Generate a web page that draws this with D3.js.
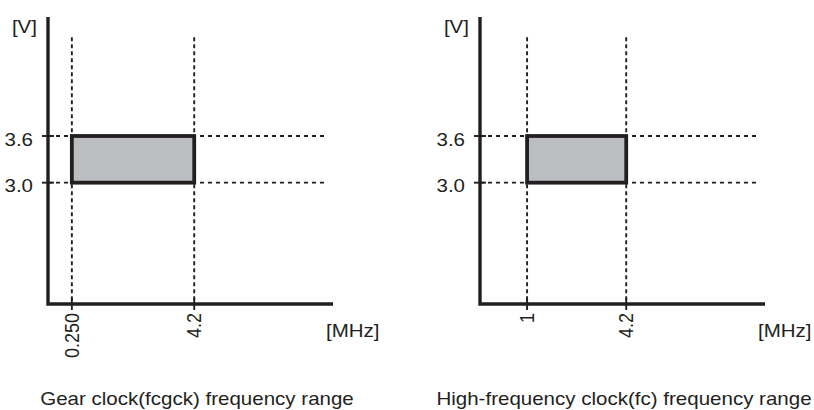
<!DOCTYPE html>
<html lang="en">
<head>
  <meta charset="utf-8">
  <title>Clock frequency range</title>
  <script src="https://d3js.org/d3.v7.min.js"></script>
  <style>
    body {
      margin: 0;
      background: #ffffff;
      font-family: "Liberation Sans", Arial, Helvetica, sans-serif;
    }
    .lbl {
      font-size: 18px;
      fill: #231f20;
    }
    .grid {
      stroke: #231f20;
      stroke-width: 1.9px;
      fill: none;
    }
    .axis-line {
      stroke: #231f20;
      stroke-width: 3.4px;
      fill: none;
    }
  </style>
</head>
<body>
<script>
// chart data
var titles = ["Gear clock(fcgck) frequency range", "High-frequency clock(fc) frequency range"];
var freqLow = [0.25, 1];
var freqHigh = [4.2, 4.2];
var freqLabels = [["0.250", "4.2"], ["1", "4.2"]];
var voltLow = 3.0;
var voltHigh = 3.6;
var voltTicks = [3.0, 3.6];
var voltLabels = ["3.0", "3.6"];

var width = 814, height = 410;

// layout of each panel (axis origin in px)
var panelX = [48, 480];
var titleX = [197, 624];
var axisBottom = 304, axisTop = 17, axisLen = 285;
var stretch = 1.14; // the lettering in the picture is a bit wide

var svg = d3.select("body").append("svg")
    .attr("width", width)
    .attr("height", height);

function label(g, tx, ty, anchor, txt, rot) {
  return g.append("text")
    .attr("class", "lbl")
    .attr("text-anchor", anchor)
    .attr("transform", "translate(" + tx + "," + ty + ") scale(" + stretch + ",1)" + (rot ? " rotate(" + rot + ")" : ""))
    .text(txt);
}

titles.forEach(function(title, i) {
  var x0 = panelX[i];
  var x = d3.scaleLinear().domain([-0.52, 8.68]).range([x0, x0 + axisLen]);
  var y = d3.scaleLinear().domain([1.44, 5.13]).range([axisBottom, axisTop]);

  var g = svg.append("g");
  var xs = [freqLow[i], freqHigh[i]];

  // dashed guides
  g.selectAll(".vguide")
    .data(xs)
    .enter().append("line")
    .attr("class", "grid")
    .attr("stroke-dasharray", "4,3")
    .attr("x1", d => x(d)).attr("x2", d => x(d))
    .attr("y1", y(4.87)).attr("y2", axisBottom);

  g.selectAll(".hguide")
    .data(voltTicks)
    .enter().append("line")
    .attr("class", "grid")
    .attr("stroke-dasharray", "4,4")
    .attr("x1", x0).attr("x2", x0 + 280)
    .attr("y1", d => y(d)).attr("y2", d => y(d));

  // range box
  g.append("rect")
    .attr("x", x(freqLow[i]))
    .attr("y", y(voltHigh))
    .attr("width", x(freqHigh[i]) - x(freqLow[i]))
    .attr("height", y(voltLow) - y(voltHigh))
    .attr("fill", "#bcbdc0")
    .attr("stroke", "#231f20")
    .attr("stroke-width", 3.8);

  // axes
  g.append("path")
    .attr("class", "axis-line")
    .attr("d", "M" + x0 + "," + axisTop + "V" + axisBottom + "H" + (x0 + axisLen));

  // y ticks
  g.selectAll(".ytick")
    .data(voltTicks)
    .enter().append("line")
    .attr("stroke", "#231f20")
    .attr("stroke-width", 1.9)
    .attr("x1", x0 - 6).attr("x2", x0 + 6)
    .attr("y1", d => y(d)).attr("y2", d => y(d));

  voltTicks.forEach(function(v, k) {
    label(g, x0 - 15, y(v) + 9.5, "end", voltLabels[k]);
  });

  // x ticks
  g.selectAll(".xtick")
    .data(xs)
    .enter().append("line")
    .attr("stroke", "#231f20")
    .attr("stroke-width", 1.9)
    .attr("x1", d => x(d)).attr("x2", d => x(d))
    .attr("y1", axisBottom - 6).attr("y2", axisBottom + 6);

  xs.forEach(function(f, k) {
    label(g, x(f) + 7, axisBottom + 9, "end", freqLabels[i][k], -90);
  });

  // units
  label(g, x0 - 11, 33, "end", "[V]");
  label(g, x0 + 278, 337, "start", "[MHz]");

  label(g, titleX[i], 405, "middle", title);
});
</script>
</body>
</html>
